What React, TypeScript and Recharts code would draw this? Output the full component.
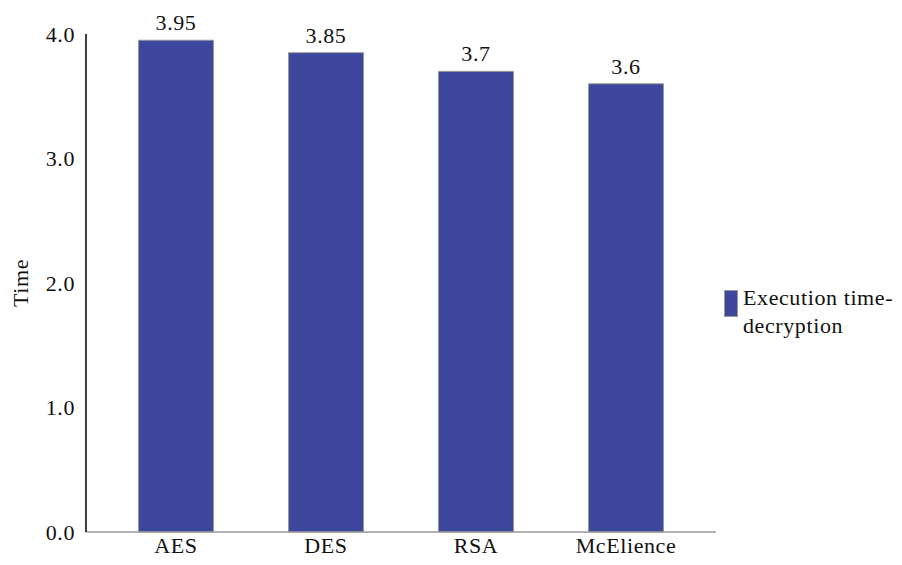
import React from 'react';
import { BarChart, Bar, XAxis, YAxis, LabelList } from 'recharts';

// Categories and decryption times
const algorithms: string[] = ['AES', 'DES', 'RSA', 'McElience'];
const decryptionTimes: number[] = [3.95, 3.85, 3.7, 3.6];
const timeTicks: number[] = [0, 1, 2, 3, 4];

const barColor = '#3C479D';
const fontFamily = '"Liberation Serif", "Times New Roman", serif';
const textStyle = { fontFamily, fontSize: 22, fill: '#111', letterSpacing: 0.6 };

// Build rows for recharts
const chartData = algorithms.map((name, i) => ({ name, time: decryptionTimes[i] }));

// Legend drawn beside the plot, label wrapped on two lines like the original
const WrappedLegend: React.FC = () => (
  <div
    style={{
      position: 'absolute',
      left: 724,
      top: 290,
      display: 'flex',
      alignItems: 'flex-start',
      fontFamily,
      fontSize: 22,
      letterSpacing: 0.6,
      color: '#111',
    }}
  >
    <span
      style={{
        display: 'inline-block',
        width: 14,
        height: 27,
        background: barColor,
        border: '1px solid #999',
        boxSizing: 'border-box',
        marginRight: 5,
      }}
    />
    <span style={{ lineHeight: '28px', marginTop: -6, whiteSpace: 'nowrap' }}>
      Execution time-
      <br />
      decryption
    </span>
  </div>
);

const App: React.FC = () => {
  return (
    <div style={{ position: 'absolute', left: 0, top: 0, width: 902, height: 565, background: '#fff' }}>
      <BarChart
        width={902}
        height={565}
        data={chartData}
        margin={{ top: 34, right: 186, bottom: 0, left: 0 }}
        barCategoryGap="25%"
      >
        <XAxis
          dataKey="name"
          height={33}
          padding={{ left: 15, right: 15 }}
          tickLine={false}
          tickSize={0}
          tickMargin={5}
          axisLine={{ stroke: '#999', strokeWidth: 1.5 }}
          tick={textStyle}
        />
        <YAxis
          width={86}
          domain={[0, 4]}
          ticks={timeTicks}
          tickFormatter={(v: number) => v.toFixed(1)}
          tickLine={false}
          tickSize={0}
          tickMargin={11}
          axisLine={{ stroke: '#000', strokeWidth: 1.5 }}
          tick={textStyle}
          label={{
            value: 'Time',
            angle: -90,
            position: 'insideLeft',
            offset: 20,
            style: { ...textStyle, textAnchor: 'middle' },
          }}
        />
        <Bar dataKey="time" fill={barColor} stroke="#999" strokeWidth={1} isAnimationActive={false}>
          <LabelList dataKey="time" position="top" offset={10} style={textStyle} />
        </Bar>
      </BarChart>
      <WrappedLegend />
    </div>
  );
};

export default App;
